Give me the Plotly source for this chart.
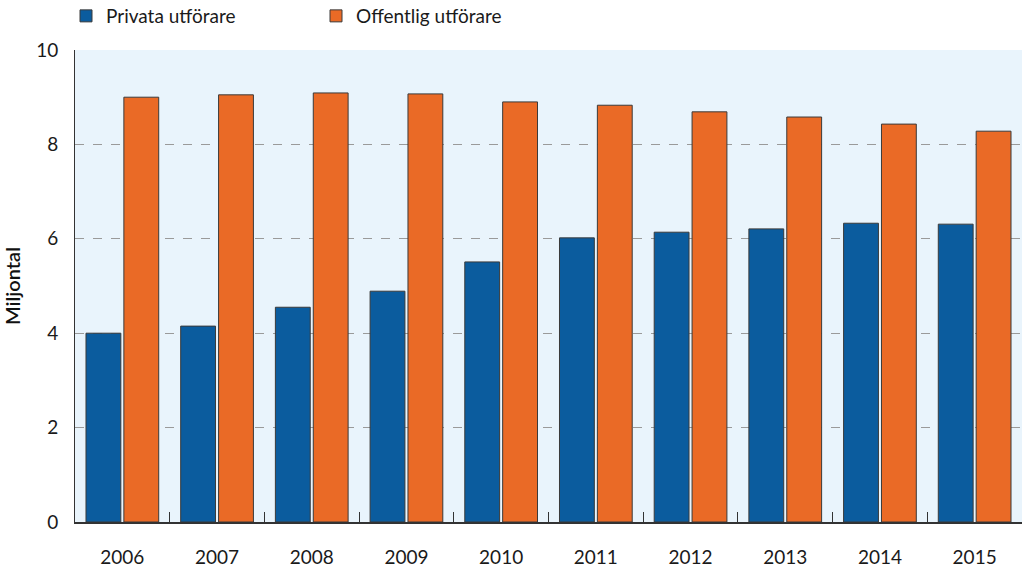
import plotly.graph_objects as go

years = ["2006", "2007", "2008", "2009", "2010", "2011", "2012", "2013", "2014", "2015"]
privata = [4.0, 4.15, 4.55, 4.89, 5.51, 6.02, 6.14, 6.21, 6.33, 6.31]
offentlig = [9.0, 9.05, 9.09, 9.07, 8.9, 8.83, 8.69, 8.58, 8.43, 8.28]
y_ticks = [0, 2, 4, 6, 8, 10]

FONT = "Lato, 'Open Sans', sans-serif"

fig = go.Figure()
fig.add_trace(go.Bar(
    x=years, y=privata, name="Privata utförare",
    marker=dict(color="#0B5C9E", line=dict(color="#3a3a3a", width=1)),
))
fig.add_trace(go.Bar(
    x=years, y=offentlig, name="Offentlig utförare",
    marker=dict(color="#EA6A26", line=dict(color="#3a3a3a", width=1)),
))

fig.update_layout(
    width=1024, height=568,
    margin=dict(l=75, r=2, t=50, b=46, autoexpand=False),
    paper_bgcolor="white",
    plot_bgcolor="#E9F4FC",
    barmode="group",
    bargap=0.2,
    bargroupgap=0.08,
    font=dict(family=FONT, size=19, color="#1a1a1a"),
    legend=dict(
        orientation="h", x=-0.0095, y=1.072, xanchor="left", yanchor="middle",
        font=dict(size=19), entrywidth=205, traceorder="normal",
        bgcolor="rgba(0,0,0,0)",
    ),
    showlegend=True,
)
fig.update_xaxes(
    type="category", automargin=False,
    showline=True, linecolor="#333", linewidth=1.5,
    ticks="inside", tickson="boundaries", ticklen=10, tickcolor="#333", tickwidth=1,
    tickfont=dict(size=19),
    ticklabelstandoff=17,
    showgrid=False,
)
fig.update_yaxes(
    range=[0, 10], tickvals=y_ticks, automargin=False,
    showline=True, linecolor="#333", linewidth=1,
    showgrid=True, gridcolor="#9a9a9a", griddash="dash", gridwidth=1,
    zeroline=False,
    tickfont=dict(size=19),
    ticklabelstandoff=12,
    title=dict(text="Miljontal", font=dict(size=20, color="#111", weight=600), standoff=22),
)

fig.write_html(
    "out.html",
    config={"displayModeBar": False},
    post_script="document.body.style.margin='0';document.body.style.overflow='hidden';",
)
